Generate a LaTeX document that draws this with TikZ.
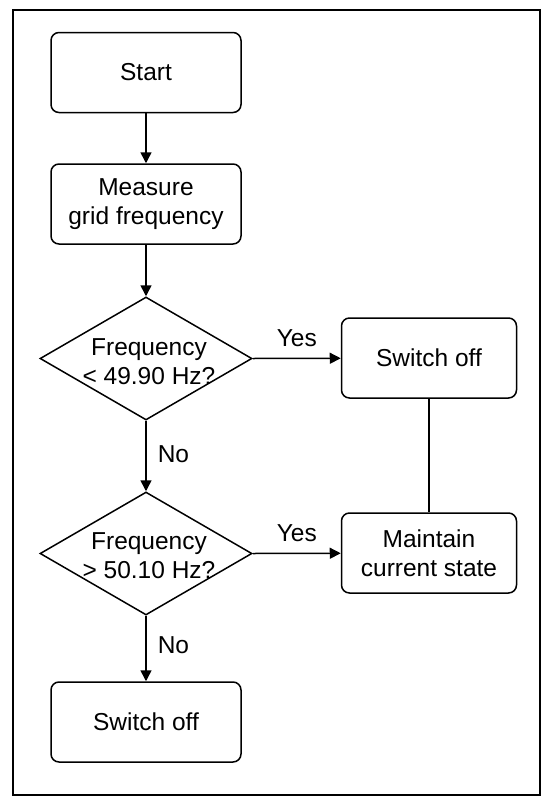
\documentclass[tikz,border=0pt]{standalone}
\usepackage{fontspec}
\setmainfont{Liberation Sans}
\usetikzlibrary{shapes.geometric,arrows.meta}
\begin{document}
\begin{tikzpicture}[x=1pt,y=-1pt,
  every node/.style={font=\fontsize{24.5}{29}\selectfont},
  box/.style={draw,line width=1.5pt,rounded corners=8pt,minimum width=190pt,minimum height=80pt,align=center,inner sep=0pt},
  rbox/.style={box,minimum width=175pt},
  dia/.style={draw,line width=1.5pt,shape=diamond,minimum width=212pt,minimum height=123pt,inner sep=0pt},
  lbl/.style={inner sep=0pt,align=center},
  arr/.style={line width=1.5pt,-{Triangle[length=11pt,width=11pt]}},
  ln/.style={line width=1.5pt}]
\useasboundingbox (0,0) rectangle (550,809);
\draw[line width=2pt] (13,10) rectangle (540,795);
\node[box] (start) at (146,72.5) {Start};
\node[box] (meas) at (146,204) {Measure\\grid frequency};
\node[dia] (d1) at (146,358.5) {};
\node[lbl] (t1) at (149,362) {Frequency\\\textless{} 49.90 Hz?};
\node[dia] (d2) at (146,553.5) {};
\node[lbl] (t2) at (149,556) {Frequency\\\textgreater{} 50.10 Hz?};
\node[box] (off2) at (146,722) {Switch off};
\node[rbox] (off1) at (429,358) {Switch off};
\node[rbox] (keep) at (429,553) {Maintain\\current state};
\draw[arr] (start) -- (meas);
\draw[arr] (meas) -- (d1);
\draw[arr] (d1) -- node[lbl,right=11pt,pos=0.47] (no1) {No} (d2);
\draw[arr] (d2) -- node[lbl,right=11pt,pos=0.45] (no2) {No} (off2);
\draw[arr] (d1.east) -- node[lbl,above=11pt] (yes1) {Yes} (off1);
\draw[arr] (d2.east) -- node[lbl,above=11pt] (yes2) {Yes} (keep);
\draw[ln] (off1) -- (keep);
\end{tikzpicture}
\end{document}
